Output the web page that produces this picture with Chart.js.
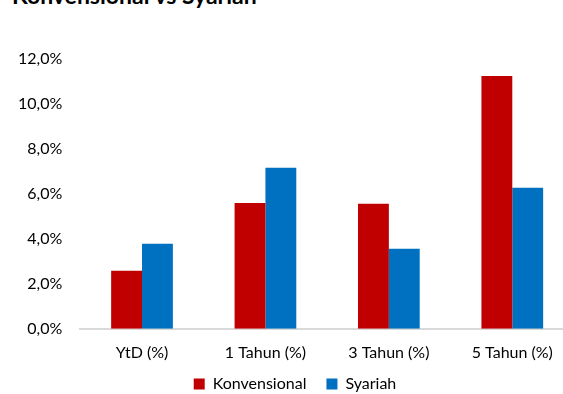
<!DOCTYPE html>
<html>
<head>
<meta charset="utf-8">
<script src="https://cdn.jsdelivr.net/npm/chart.js@4"></script>
<style>
  html, body { margin: 0; padding: 0; background: #fff; overflow: hidden; width: 563px; height: 394px; }
  #title { position: absolute; left: 12px; top: -19px; font: bold 23px Lato, sans-serif; color: #000; white-space: nowrap; }
  #wrap { position: absolute; left: 0; top: 0; width: 590px; height: 422px; }
</style>
</head>
<body>
<div id="title">Konvensional vs Syariah</div>
<div id="wrap"><canvas id="chart"></canvas></div>
<script>
const labels = ['YtD (%)', '1 Tahun (%)', '3 Tahun (%)', '5 Tahun (%)'];
const konvensional = [2.58, 5.6, 5.56, 11.24];
const syariah = [3.78, 7.16, 3.56, 6.27];

const font = { family: 'Lato, sans-serif', size: 16 };

// nudge the legend up/right after layout so the wide item gap does not squeeze the plot
const legendNudge = {
    id: 'legendNudge',
    afterLayout: function (c) {
        c.legend.top -= 20;
        c.legend.bottom -= 20;
        c.legend.left += 8;
        c.legend.right += 8;
    }
};

var chart = new Chart(document.getElementById('chart'), {
    type: 'bar',
    data: {
        labels: labels,
        datasets: [{
            label: 'Konvensional',
            data: konvensional,
            backgroundColor: '#c00000'
        }, {
            label: 'Syariah',
            data: syariah,
            backgroundColor: '#0070c0'
        }]
    },
    options: {
        responsive: true,
        maintainAspectRatio: false,
        animation: false,
        layout: { padding: { top: 59, left: 0, right: 16, bottom: 0 } },
        datasets: { bar: { categoryPercentage: 0.5, barPercentage: 1 } },
        plugins: {
            legend: {
                position: 'bottom',
                labels: { font: font, color: '#000', boxWidth: 11, boxHeight: 11, padding: 20 }
            },
            tooltip: { enabled: false }
        },
        scales: {
            x: {
                grid: { display: false, drawTicks: false },
                border: { color: '#d9d9d9', width: 2 },
                ticks: { font: font, color: '#000', padding: 14 }
            },
            y: {
                min: 0,
                max: 12,
                grid: { display: false, drawTicks: false },
                border: { display: false },
                ticks: {
                    stepSize: 2,
                    font: font,
                    color: '#000',
                    padding: 18,
                    callback: function (v) { return v.toFixed(1).replace('.', ',') + '%'; }
                }
            }
        }
    },
    plugins: [legendNudge]
});
</script>
</body>
</html>
